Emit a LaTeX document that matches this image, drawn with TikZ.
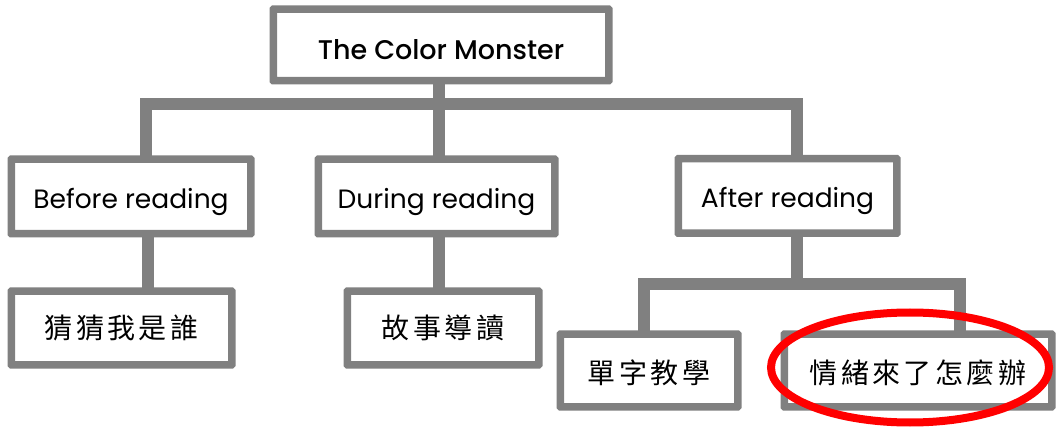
\documentclass[tikz,border=0pt]{standalone}
\usepackage{fontspec}
\setmainfont{Poppins}[BoldFont={Poppins Medium}]
\newfontfamily\cjk[LetterSpace=12]{Noto Sans CJK TC}
\usetikzlibrary{calc}
\definecolor{boxgray}{HTML}{808080}
\definecolor{hlred}{HTML}{FF0000}
\newcommand{\lowtext}[2]{\raisebox{-#1}[\height][\depth]{#2}}
\tikzset{
  box/.style={draw=boxgray, line width=5pt, fill=white, inner sep=0pt, rounded corners=1pt,
    font=\fontsize{26.5}{28}\selectfont, text=black},
  cjkbox/.style={box, font=\cjk\fontsize{28}{30}\selectfont},
  conn/.style={draw=boxgray, line width=12pt, line join=miter, line cap=butt},
}
\begin{document}
\begin{tikzpicture}[x=1pt,y=-1pt]
\useasboundingbox (0,0) rectangle (1057,427);
% connector skeleton coordinates
\coordinate (j1) at (439,104);
\coordinate (jl) at (146,104);
\coordinate (jr) at (797,104);
\coordinate (j2) at (797,284);
\coordinate (j2l) at (644,284);
\coordinate (j2r) at (960,284);
\coordinate (xb) at (148,0);
% nodes
\node[box, minimum width=333pt, minimum height=69pt, font=\bfseries\fontsize{27}{29}\selectfont] (top) at (441,45) {\lowtext{5pt}{The Color Monster}};
\node[box, minimum width=237pt, minimum height=72pt] (before) at (131,196.5) {\lowtext{5pt}{Before reading}};
\node[box, minimum width=234pt, minimum height=72pt] (during) at (436.5,196.5) {\lowtext{5pt}{During reading}};
\node[box, minimum width=216pt, minimum height=72pt] (after) at (787.5,196) {\lowtext{5pt}{After reading}};
\node[cjkbox, minimum width=218pt, minimum height=71pt] (guess) at (121.5,328) {猜猜我是誰};
\node[cjkbox, minimum width=189pt, minimum height=71pt] (story) at (443,328) {故事導讀};
\node[cjkbox, minimum width=175pt, minimum height=70pt] (vocab) at (649,370.5) {\lowtext{2pt}{單字教學}};
\node[cjkbox, minimum width=265pt, minimum height=70pt] (emo) at (918,370.5) {\lowtext{2pt}{情緒來了怎麼辦}};
% connectors
\draw[conn] (j1 |- top.south) -- (j1 |- during.north);
\draw[conn] (jl |- before.north) -- (jl) -- (jr) -- (jr |- after.north);
\draw[conn] (xb |- before.south) -- (xb |- guess.north);
\draw[conn] (j1 |- during.south) -- (j1 |- story.north);
\draw[conn] (j2 |- after.south) -- (j2);
\draw[conn] (j2l |- vocab.north) -- (j2l) -- (j2r) -- (j2r |- emo.north);
% redraw box borders over connector ends
\foreach \n in {top,before,during,after,guess,story,vocab,emo}{
  \draw[boxgray, line width=5pt, rounded corners=1pt] (\n.north west) rectangle (\n.south east);
}
% red highlight
\draw[hlred, line width=8pt] ($(emo.center)+(-8,-3)$) ellipse [x radius=139pt, y radius=55pt];
\end{tikzpicture}
\end{document}
